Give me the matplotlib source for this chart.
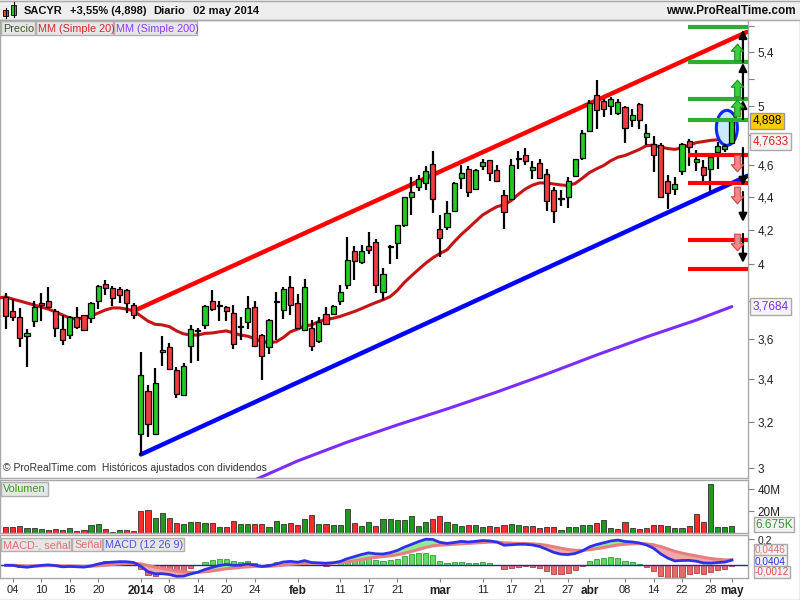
import numpy as np
import matplotlib
matplotlib.use("Agg")
import matplotlib.pyplot as plt
from matplotlib.patches import Rectangle, Ellipse
from matplotlib.path import Path
from matplotlib.transforms import blended_transform_factory
import matplotlib.ticker as mticker

plt.rcParams['font.family'] = ['Liberation Sans', 'DejaVu Sans']

# ---------------- data (daily bars, 03 Dec 2013 .. 02 May 2014) ----------------
opens = [3.82, 3.745, 3.714, 3.615, 3.692, 3.787, 3.798, 3.745, 3.651, 3.62,
         3.714, 3.724, 3.708, 3.798, 3.89, 3.868, 3.863, 3.857, 3.777, 3.147,
         3.345, 3.147, 3.534, 3.559, 3.445, 3.326, 3.564, 3.641, 3.671, 3.798,
         3.771, 3.766, 3.734, 3.666, 3.687, 3.766, 3.62, 3.559, 3.793, 3.75,
         3.874, 3.787, 3.646, 3.656, 3.59, 3.729, 3.729, 3.798, 3.885, 4.076,
         4.013, 4.105, 4.128, 3.846, 4.099, 4.123, 4.229, 4.399, 4.462, 4.487,
         4.609, 4.205, 4.217, 4.313, 4.519, 4.577, 4.449, 4.596, 4.635, 4.57,
         4.412, 4.386, 4.642, 4.668, 4.57, 4.616, 4.545, 4.443, 4.386, 4.399,
         4.532, 4.648, 4.829, 5.081, 5.038, 5.003, 4.953, 4.995, 4.904, 5.017,
         4.789, 4.741, 4.734, 4.5, 4.449, 4.564, 4.761, 4.622, 4.59, 4.577,
         4.688, 4.708, 4.748]
highs = [3.84, 3.808, 3.761, 3.651, 3.798, 3.841, 3.874, 3.755, 3.724, 3.719,
         3.766, 3.724, 3.793, 3.885, 3.912, 3.879, 3.874, 3.863, 3.787, 3.534,
         3.373, 3.455, 3.615, 3.579, 3.46, 3.48, 3.671, 3.656, 3.777, 3.857,
         3.798, 3.771, 3.777, 3.714, 3.825, 3.798, 3.625, 3.703, 3.846, 3.874,
         3.935, 3.835, 3.918, 3.697, 3.714, 3.766, 3.777, 3.885, 4.157, 4.105,
         4.111, 4.187, 4.146, 3.979, 4.111, 4.229, 4.399, 4.525, 4.538, 4.596,
         4.694, 4.289, 4.374, 4.493, 4.603, 4.596, 4.577, 4.642, 4.635, 4.603,
         4.443, 4.642, 4.694, 4.714, 4.629, 4.642, 4.577, 4.462, 4.443, 4.525,
         4.642, 4.836, 5.045, 5.189, 5.052, 5.067, 5.052, 5.0, 4.981, 5.024,
         4.877, 4.796, 4.748, 4.538, 4.525, 4.748, 4.775, 4.701, 4.635, 4.675,
         4.755, 4.741, 4.904]
lows = [3.65, 3.692, 3.559, 3.46, 3.661, 3.692, 3.761, 3.61, 3.569, 3.60,
        3.651, 3.641, 3.682, 3.755, 3.83, 3.771, 3.787, 3.734, 3.703, 3.055,
        3.134, 3.143, 3.465, 3.45, 3.311, 3.321, 3.48, 3.489, 3.651, 3.745,
        3.692, 3.692, 3.549, 3.595, 3.651, 3.564, 3.397, 3.524, 3.595, 3.703,
        3.724, 3.656, 3.641, 3.539, 3.579, 3.671, 3.729, 3.777, 3.863, 3.912,
        4.002, 4.059, 3.841, 3.803, 4.002, 4.03, 4.217, 4.289, 4.437, 4.443,
        4.301, 4.042, 4.199, 4.307, 4.449, 4.399, 4.443, 4.57, 4.5, 4.5,
        4.205, 4.38, 4.577, 4.603, 4.512, 4.512, 4.313, 4.241, 4.344, 4.331,
        4.525, 4.635, 4.822, 4.843, 4.926, 4.94, 4.94, 4.748, 4.857, 4.843,
        4.734, 4.557, 4.399, 4.325, 4.412, 4.538, 4.596, 4.564, 4.5, 4.437,
        4.577, 4.688, 4.741]
closes = [3.72, 3.714, 3.605, 3.63, 3.766, 3.777, 3.766, 3.656, 3.595, 3.714,
          3.661, 3.646, 3.787, 3.879, 3.868, 3.814, 3.83, 3.787, 3.724, 3.421,
          3.192, 3.383, 3.544, 3.45, 3.331, 3.465, 3.651, 3.646, 3.771, 3.755,
          3.777, 3.745, 3.574, 3.661, 3.761, 3.564, 3.514, 3.697, 3.798, 3.863,
          3.777, 3.656, 3.874, 3.564, 3.687, 3.676, 3.771, 3.846, 4.025, 4.019,
          4.076, 4.082, 3.885, 3.946, 4.105, 4.229, 4.399, 4.431, 4.512, 4.564,
          4.386, 4.152, 4.301, 4.487, 4.551, 4.431, 4.57, 4.622, 4.551, 4.5,
          4.307, 4.603, 4.645, 4.629, 4.59, 4.519, 4.374, 4.313, 4.39, 4.5,
          4.642, 4.816, 5.024, 4.974, 4.981, 5.052, 5.031, 4.85, 4.94, 4.904,
          4.816, 4.668, 4.399, 4.424, 4.481, 4.741, 4.721, 4.642, 4.538, 4.655,
          4.728, 4.730, 4.898]
volumes_m = [5.2, 5.2, 6.1, 4.8, 4.2, 3.3, 2.4, 3.3, 2.8, 4.2,
             1.8, 2.8, 7.0, 7.9, 3.3, 1.2, 2.4, 2.4, 1.8, 19.7,
             20.6, 13.3, 17.9, 13.3, 8.8, 7.9, 9.7, 9.7, 8.8, 8.8,
             5.2, 5.2, 10.6, 7.9, 7.9, 7.9, 7.9, 5.2, 10.6, 7.9,
             8.8, 7.0, 12.4, 16.1, 7.9, 7.9, 7.0, 7.0, 21.5, 8.8,
             6.1, 9.7, 6.1, 12.4, 12.4, 12.0, 11.8, 15.5, 6.4, 9.7,
             12.5, 15.5, 10.0, 8.2, 6.4, 7.0, 7.0, 5.2, 6.4, 5.2,
             7.0, 7.9, 7.0, 6.4, 6.4, 4.5, 5.2, 5.2, 2.7, 5.2,
             5.2, 7.0, 7.0, 9.4, 11.8, 4.2, 3.3, 10.0, 4.5, 3.3,
             4.2, 7.0, 7.6, 6.4, 4.5, 4.5, 6.4, 17.3, 10.0, 44.5,
             5.2, 5.2, 6.675]
# SMA20 values shown before enough bars are on screen (02 Dec .. 31 Dec)
ma20_head = [3.814, 3.82, 3.808, 3.798, 3.787, 3.777, 3.766, 3.755, 3.74, 3.724,
             3.708, 3.703, 3.708, 3.719, 3.734, 3.75, 3.761, 3.761, 3.755, 3.745]
# SMA200 (bar index, value)
ma200_idx = [36, 42, 49, 56, 63, 70, 77, 84, 91, 98, 103]
ma200_val = [2.95, 3.03, 3.112, 3.188, 3.261, 3.34, 3.426, 3.519, 3.61, 3.697, 3.768]
# trend lines (bar index, price)
red_trend = [(19, 3.745), (105.1, 5.553)]
blue_trend = [(20, 3.058), (105.2, 4.532)]
# horizontal target levels
green_levels = [5.591, 5.323, 5.054, 4.904]
red_levels = [4.670, 4.484, 4.140, 3.972]
up_arrows = [(5.323, 5.57), (5.054, 5.316), (4.911, 5.045)]
down_arrows = [(4.714, 4.468), (4.43, 4.247), (4.175, 4.008)]
up_icons = [5.395, 5.131, 4.988]
down_icons = [4.616, 4.412, 4.128]

date_ticks = [2, 6, 10, 14, 20, 24, 28, 32, 36, 42, 48, 52, 56, 62, 68, 72, 76, 80, 83, 88, 92, 96, 100, 103]
date_labels = ['04', '10', '16', '20', '2014', '08', '14', '20', '24', 'feb', '11', '17', '21',
               'mar', '11', '17', '21', '27', 'abr', '08', '14', '22', '28', 'may']
price_ticks = [3.0, 3.2, 3.4, 3.6, 3.8, 4.0, 4.2, 4.4, 4.6, 4.8, 5.0, 5.2, 5.4, 5.6]
price_tick_labels = ['3', '3,2', '3,4', '3,6', '', '4', '4,2', '4,4', '4,6', '', '5', '', '5,4', '']

# ---------------- derived ----------------
o = np.array(opens); h = np.array(highs); l = np.array(lows); c = np.array(closes)
v = np.array(volumes_m)
n = len(c)
x = np.arange(1, n + 1)

ma20 = [np.mean(c[i - 19:i + 1]) for i in range(19, n)]
ma20_x = np.concatenate([np.arange(0, 20), np.arange(20, n + 1)])
ma20_y = np.concatenate([ma20_head, ma20])


def ema(a, p):
    k = 2.0 / (p + 1)
    out = [a[0]]
    for val in a[1:]:
        out.append(out[-1] + k * (val - out[-1]))
    return np.array(out)


macd = ema(c, 12) - ema(c, 26)
signal = ema(macd, 9)
hist = macd - signal

# ---------------- figure ----------------
W, H = 800, 600
fig = plt.figure(figsize=(8, 6), dpi=100)
fig.patch.set_facecolor('white')


def fx(px):
    return px / W


def fy(py):
    return 1 - py / H


GRID = '#a8a8a8'
GREEN = '#22cc22'
RED = '#f03c3c'
XL = (0.21, 105.27)

ax = fig.add_axes([0, fy(478), fx(748), (478 - 20) / H])
axv = fig.add_axes([0, fy(533), fx(748), (533 - 480) / H])
axm = fig.add_axes([0, fy(578), fx(748), (578 - 535) / H])
axh = fig.add_axes([0, fy(578), fx(748), (578 - 535) / H], frameon=False)

for a in (ax, axv, axm):
    a.set_xlim(*XL)
    for s in a.spines.values():
        s.set_color(GRID)
        s.set_linewidth(1)
    a.yaxis.tick_right()
    a.tick_params(axis='y', direction='out', length=4, color='#808080', labelsize=8.5,
                  pad=3, labelcolor='#202020')
axh.set_xlim(*XL)
axh.set_xticks([]); axh.set_yticks([])

# ---- price panel ----
ax.set_yscale('log')
ax.set_ylim(2.958, 5.648)
ax.yaxis.set_minor_locator(mticker.NullLocator())
ax.yaxis.set_minor_formatter(mticker.NullFormatter())
ax.set_yticks(price_ticks)
ax.set_yticklabels(price_tick_labels)
ax.set_xticks([])

ax.plot(ma200_idx, ma200_val, color='#7b2cff', lw=2.2, zorder=2, solid_capstyle='round')
ax.plot([p[0] for p in red_trend], [p[1] for p in red_trend], color='#ff0000', lw=3.2, zorder=3,
        solid_capstyle='round')
ax.plot([p[0] for p in blue_trend], [p[1] for p in blue_trend], color='#0000ff', lw=3.2, zorder=3,
        solid_capstyle='round')
ax.plot(ma20_x, ma20_y, color='#c41414', lw=2.2, zorder=3)

# ellipse highlight behind the last candle
cx, cy = ax.transAxes.inverted().transform(ax.transData.transform((102.3, 4.85)))
ax.add_patch(Ellipse((cx, cy), 21 / 748, 35 / 458, transform=ax.transAxes, facecolor='#cce8fb',
                     edgecolor='#0a28ff', lw=2.2, zorder=3.5))

for xi, oo, hh, ll, cc in zip(x, o, h, l, c):
    ax.vlines(xi, ll, hh, color='black', lw=1.6, zorder=4)
    lo, hi = min(oo, cc), max(oo, cc)
    col = GREEN if cc >= oo else RED
    ax.bar(xi, hi - lo, bottom=lo, width=0.72, color=col, edgecolor='black', lw=0.9, zorder=5)

for lv in green_levels:
    ax.plot([96.8, 105.3], [lv, lv], color='#2eae2e', lw=3.0, zorder=6, solid_capstyle='butt')
for lv in red_levels:
    ax.plot([96.8, 105.3], [lv, lv], color='#ff0000', lw=3.0, zorder=6, solid_capstyle='butt')

for tail, tip in up_arrows + down_arrows:
    ax.annotate('', xy=(104.56, tip), xytext=(104.56, tail),
                arrowprops=dict(arrowstyle='-|>', color='black', lw=1.6, mutation_scale=12,
                                shrinkA=0, shrinkB=0), zorder=7)

arrow_up = Path([(0, 1), (0.75, 0.15), (0.34, 0.15), (0.34, -1), (-0.34, -1), (-0.34, 0.15),
                 (-0.75, 0.15), (0, 1)], closed=True)
arrow_dn = Path([(0, -1), (0.75, -0.15), (0.34, -0.15), (0.34, 1), (-0.34, 1), (-0.34, -0.15),
                 (-0.75, -0.15), (0, -1)], closed=True)
ax.plot([103.7] * len(up_icons), up_icons, linestyle='none', marker=arrow_up, ms=12,
        mfc='#3ccf3c', mec='#1d8f1d', mew=0.8, zorder=7)
ax.plot([103.7] * len(down_icons), down_icons, linestyle='none', marker=arrow_dn, ms=12,
        mfc='#f08a8a', mec='#c84848', mew=0.8, zorder=7)

bt = blended_transform_factory(ax.transAxes, ax.transData)
ax.text(1.006, c[-1], '4,898', transform=bt, va='center', ha='left', fontsize=8.5, color='black',
        bbox=dict(boxstyle='square,pad=0.2', fc='#ffcc00', ec='#999999', lw=1), zorder=10, clip_on=False)
ax.text(1.006, ma20_y[-1], '4,7633', transform=bt, va='center', ha='left', fontsize=8.5,
        color='#e02020', bbox=dict(boxstyle='square,pad=0.2', fc='#f4f4f4', ec='#aaaaaa', lw=1),
        zorder=10, clip_on=False)
ax.text(1.006, ma200_val[-1], '3,7684', transform=bt, va='center', ha='left', fontsize=8.5,
        color='#7b2cff', bbox=dict(boxstyle='square,pad=0.2', fc='#f4f4f4', ec='#aaaaaa', lw=1),
        zorder=10, clip_on=False)

ax.text(0.004, 0.012, '\u00a9 ProRealTime.com  Hist\u00f3ricos ajustados con dividendos',
        transform=ax.transAxes, fontsize=7.5, color='#303030', va='bottom', ha='left', zorder=8)

# ---- volume panel ----
vcols = ['#ff2a2a'] + ['#1f9a1f' if c[i] >= c[i - 1] else '#ff2a2a' for i in range(1, n)]
axv.bar(x, v, width=0.72, color=vcols, edgecolor='#303030', lw=0.6)
axv.set_ylim(0, 48.2)
axv.set_xticks([])
axv.set_yticks([20, 40])
axv.set_yticklabels(['20M', '40M'])

# ---- MACD panel ----
axm.set_ylim(-0.0968, 0.231)
axm.set_yticks([0.2])
axm.set_yticklabels(['0,2'])
axm.tick_params(axis='y', labelsize=7.5)
s = 0.65
axh.set_ylim(-0.0968 * s, 0.231 * s)
hcols = ['#5fdc5f' if hv >= 0 else '#e86868' for hv in hist]
hecol = ['#2f9f2f' if hv >= 0 else '#b04040' for hv in hist]
axh.bar(x, hist, width=0.72, color=hcols, edgecolor=hecol, lw=0.6, zorder=1)
axm.set_zorder(axh.get_zorder() + 1)
axm.patch.set_visible(False)
axm.axhline(0, color='#2020d0', lw=1, zorder=1)
axm.fill_between(x, macd, signal, where=macd >= signal, interpolate=True, color='#90ea90', zorder=2)
axm.fill_between(x, macd, signal, where=macd < signal, interpolate=True, color='#f2a8a8', zorder=2)
axm.plot(x, signal, color='#e68080', lw=2.2, zorder=3)
axm.plot(x, macd, color='#3030e8', lw=2.0, zorder=4)

axm.set_xticks(date_ticks)
axm.set_xticklabels(date_labels)
axm.tick_params(axis='x', direction='out', length=3, color='#808080', labelsize=8, pad=2,
                labelcolor='#202020')
for lab in axm.get_xticklabels():
    if lab.get_text() in ('2014', 'feb', 'mar', 'abr', 'may'):
        lab.set_fontweight('bold')
        lab.set_fontsize(8.5)

# ---------------- header and tags ----------------
fig.add_artist(Rectangle((0, fy(20)), 1, 20 / H, transform=fig.transFigure, facecolor='#eeeeee',
                         edgecolor='none', zorder=0))
fig.add_artist(plt.Line2D([0, 1], [fy(20), fy(20)], transform=fig.transFigure, color=GRID, lw=1))
fig.add_artist(plt.Line2D([0, 1], [fy(0.5), fy(0.5)], transform=fig.transFigure, color=GRID, lw=1))
# small candle icon
fig.add_artist(Rectangle((fx(3), fy(16)), 5 / W, 6 / H, transform=fig.transFigure, facecolor=RED,
                         edgecolor='black', lw=0.6))
fig.add_artist(plt.Line2D([fx(5.5), fx(5.5)], [fy(18), fy(8)], transform=fig.transFigure, color='black', lw=0.8))
fig.add_artist(Rectangle((fx(11), fy(15)), 5 / W, 10 / H, transform=fig.transFigure, facecolor=GREEN,
                         edgecolor='black', lw=0.6))
fig.add_artist(plt.Line2D([fx(13.5), fx(13.5)], [fy(17), fy(2)], transform=fig.transFigure, color='black', lw=0.8))

hdr = dict(fontsize=8, fontweight='bold', color='#101010', va='center', ha='left')
fig.text(fx(24), fy(10.5), 'SACYR', **hdr)
fig.text(fx(70), fy(10.5), '+3,55% (4,898)', **hdr)
fig.text(fx(153), fy(10.5), 'Diario', **hdr)
fig.text(fx(193), fy(10.5), '02 may 2014', **hdr)
fig.text(fx(796), fy(10.5), 'www.ProRealTime.com', fontsize=8.5, fontweight='bold', color='#101010',
         va='center', ha='right')


def tag(x0, x1, y0, y1, text, color):
    fig.add_artist(Rectangle((fx(x0), fy(y1)), (x1 - x0) / W, (y1 - y0) / H, transform=fig.transFigure,
                             facecolor='#e6e6e6', edgecolor='#b0b0b0', lw=1, zorder=20))
    fig.text(fx(x0 + 2), fy((y0 + y1) / 2 + 0.5), text, fontsize=7.8, color=color, va='center',
             ha='left', zorder=21)


tag(1, 35, 21, 35, 'Precio', '#3d5a1e')
tag(36, 113, 21, 35, 'MM (Simple 20)', '#d82828')
tag(114, 197, 21, 35, 'MM (Simple 200)', '#8a3cff')
tag(1, 48, 482, 496, 'Volumen', '#3a9a1a')
tag(1, 71, 538, 551, 'MACD-, se\u00f1al', '#e07070')
tag(72, 102, 538, 551, 'Se\u00f1al', '#e07070')
tag(103, 184, 538, 551, 'MACD (12 26 9)', '#5050e0')


def rtag(y, text, color, fs=8.5, fc='#f2f2f2'):
    fig.text(fx(755), fy(y), text, fontsize=fs, color=color, va='center', ha='left', zorder=22,
             bbox=dict(boxstyle='square,pad=0.1', fc=fc, ec='#aaaaaa', lw=1))


rtag(524.5, '6.675K', '#2e9a2e')
rtag(550, '0,0446', '#e07070', fs=7.2)
rtag(561, '0,0404', '#3030e0', fs=7.2)
rtag(572, '-0,0012', '#e05050', fs=7.2)

fig.add_artist(plt.Line2D([fx(799.5), fx(799.5)], [0, fy(20)], transform=fig.transFigure, color=GRID, lw=1))
fig.add_artist(plt.Line2D([0, 1], [fy(599.5), fy(599.5)], transform=fig.transFigure, color=GRID, lw=1))

fig.savefig('out.png', dpi=100)
